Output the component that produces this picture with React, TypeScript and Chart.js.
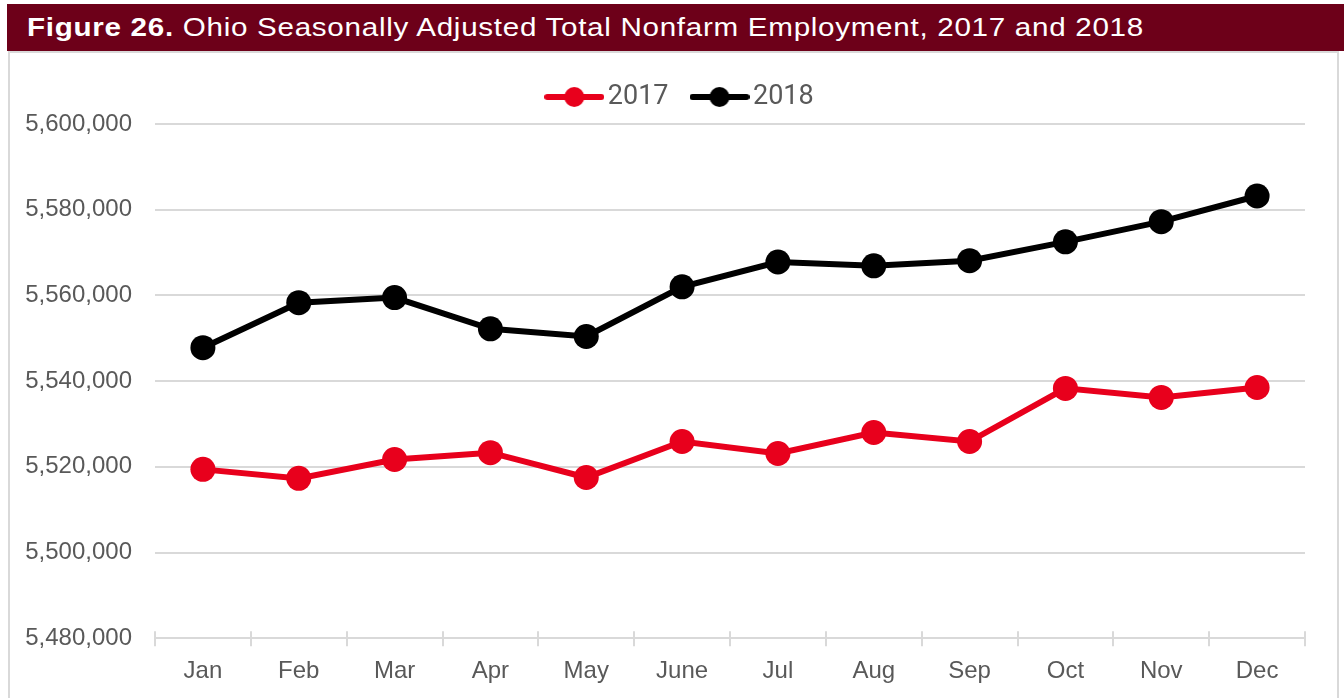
import React, { useEffect, useLayoutEffect, useRef } from "react";
import { Chart, registerables } from "chart.js";

Chart.register(...registerables);

const months = ["Jan", "Feb", "Mar", "Apr", "May", "June", "Jul", "Aug", "Sep", "Oct", "Nov", "Dec"];
const values2017 = [5519400, 5517300, 5521700, 5523300, 5517500, 5525900, 5523100, 5528000, 5525900, 5538300, 5536200, 5538500];
const values2018 = [5547800, 5558300, 5559500, 5552200, 5550400, 5562000, 5567800, 5566900, 5568100, 5572500, 5577200, 5583200];
const yMin = 5480000;
const yMax = 5600000;
const yStep = 20000;

const RED = "#E8001C";
const BLACK = "#000000";
const GRID = "#D9D9D9";
const TEXT = "#595959";

function makeLegendIcon(color: string): HTMLCanvasElement {
  const c = document.createElement("canvas");
  c.width = 60;
  c.height = 24;
  const ctx = c.getContext("2d")!;
  ctx.strokeStyle = color;
  ctx.lineWidth = 6;
  ctx.lineCap = "round";
  ctx.beginPath();
  ctx.moveTo(3, 12);
  ctx.lineTo(57, 12);
  ctx.stroke();
  ctx.fillStyle = color;
  ctx.beginPath();
  ctx.arc(30, 12, 10, 0, Math.PI * 2);
  ctx.fill();
  return c;
}

const legendGap = {
  id: "legendGap",
  beforeLayout(chart: any) {
    const lg = chart.legend;
    if (lg && !lg._gapPatched) {
      const f = lg.fit;
      lg.fit = function () {
        f.call(this);
        this.height += 3.5;
      };
      lg._gapPatched = true;
    }
  },
  afterLayout(chart: any) {
    const lg = chart.legend;
    if (lg) {
      lg.left += 23;
      lg.right += 23;
    }
  },
};

const axisTicks = {
  id: "axisTicks",
  afterDraw(chart: any) {
    const x = chart.scales.x;
    const ctx = chart.ctx;
    const y = chart.chartArea.bottom;
    ctx.save();
    ctx.strokeStyle = GRID;
    ctx.lineWidth = 2;
    for (let i = 0; i <= months.length; i++) {
      const px = Math.round(x.getPixelForValue(i - 0.5));
      ctx.beginPath();
      ctx.moveTo(px, y - 7);
      ctx.lineTo(px, y + 8);
      ctx.stroke();
    }
    ctx.restore();
  },
};

function LineChart() {
  const ref = useRef<HTMLCanvasElement>(null);
  useEffect(() => {
    const icons = [makeLegendIcon(RED), makeLegendIcon(BLACK)];
    const chart = new Chart(ref.current!, {
      type: "line",
      data: {
        labels: months,
        datasets: [
          {
            label: "2017",
            data: values2017,
            borderColor: RED,
            backgroundColor: RED,
            borderWidth: 6,
            pointRadius: 12.5,
            pointBorderWidth: 0,
            pointBackgroundColor: RED,
            pointStyle: "circle",
          },
          {
            label: "2018",
            data: values2018,
            borderColor: BLACK,
            backgroundColor: BLACK,
            borderWidth: 6,
            pointRadius: 12.5,
            pointBorderWidth: 0,
            pointBackgroundColor: BLACK,
            pointStyle: "circle",
          },
        ],
      },
      options: {
        animation: false,
        responsive: false,
        events: [],
        layout: { padding: { top: 2.5, left: 8, right: 31, bottom: 0 } },
        plugins: {
          tooltip: { enabled: false },
          legend: {
            position: "top",
            labels: {
              usePointStyle: true,
              pointStyleWidth: 40,
              padding: 31,
              color: TEXT,
              font: { family: "Roboto", size: 27 },
              generateLabels: () => [
                { text: "2017", pointStyle: icons[0], fillStyle: RED, strokeStyle: RED, lineWidth: 0, hidden: false, datasetIndex: 0, fontColor: TEXT } as any,
                { text: "2018", pointStyle: icons[1], fillStyle: BLACK, strokeStyle: BLACK, lineWidth: 0, hidden: false, datasetIndex: 1, fontColor: TEXT } as any,
              ],
            },
          },
        },
        scales: {
          x: {
            offset: true,
            grid: { display: true, drawOnChartArea: false, drawTicks: false, offset: true },
            border: { display: true, color: GRID, width: 2 },
            ticks: { color: TEXT, padding: 19, font: { family: "Liberation Sans", size: 24 } },
          },
          y: {
            min: yMin,
            max: yMax,
            afterFit: (s: any) => {
              s.width = 138;
            },
            grid: { color: GRID, lineWidth: 2, drawTicks: false },
            border: { display: false },
            ticks: {
              stepSize: yStep,
              padding: 23,
              color: TEXT,
              font: { family: "Liberation Sans", size: 24 },
              callback: (v: any) => Number(v).toLocaleString("en-US"),
            },
          },
        },
      },
      plugins: [legendGap, axisTicks],
    });
    return () => chart.destroy();
  }, []);
  return (
    <canvas
      ref={ref}
      width={1327}
      height={655}
      style={{ position: "fixed", left: 9, top: 50, width: 1327, height: 655 }}
    />
  );
}

function TitleBar() {
  const textRef = useRef<HTMLSpanElement>(null);
  useLayoutEffect(() => {
    const el = textRef.current;
    if (!el) return;
    el.style.letterSpacing = "0.6px";
    el.style.transform = "none";
    const w = el.getBoundingClientRect().width;
    const target = 1117;
    el.style.transform = "scaleX(" + (target / w).toFixed(4) + ")";
  }, []);
  return (
    <div
      style={{
        position: "fixed",
        left: 7,
        top: 4,
        width: 1337,
        height: 47,
        background: "#6D0019",
        color: "#ffffff",
        fontFamily: "'Liberation Sans', Arial, sans-serif",
        fontSize: 25.5,
        lineHeight: "47px",
        paddingLeft: 20,
        boxSizing: "border-box",
        whiteSpace: "nowrap",
      }}
    >
      <span ref={textRef} style={{ display: "inline-block", transformOrigin: "0 50%" }}>
        <b>Figure 26.</b> Ohio Seasonally Adjusted Total Nonfarm Employment, 2017 and 2018
      </span>
    </div>
  );
}

export default function App() {
  return (
    <div style={{ position: "relative", width: 0, height: 0 }}>
      <div
        style={{
          position: "fixed",
          left: 8,
          top: 51,
          width: 1327,
          height: 660,
          border: "2px solid #D9D9D9",
          background: "#ffffff",
        }}
      />
      <LineChart />
      <TitleBar />
    </div>
  );
}
